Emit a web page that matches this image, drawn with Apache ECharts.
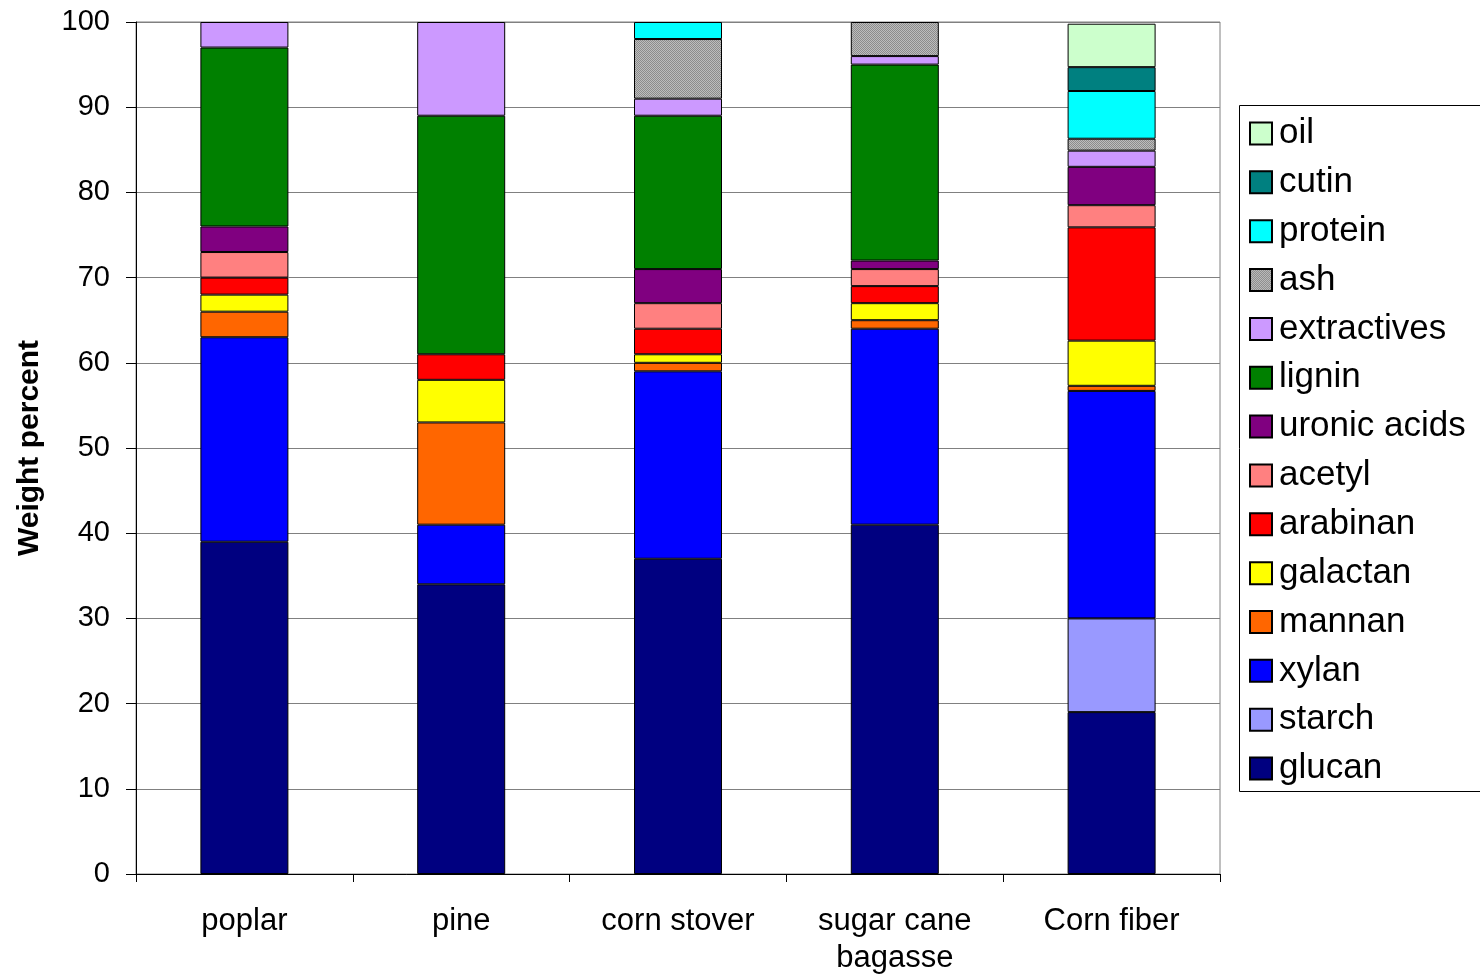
<!DOCTYPE html>
<html>
<head>
<meta charset="utf-8">
<script src="https://cdn.jsdelivr.net/npm/echarts@6/dist/echarts.min.js"></script>
<style>
  html, body { margin: 0; padding: 0; background: #fff; }
  #chart { width: 1480px; height: 976px; }
</style>
</head>
<body>
<div id="chart"></div>
<script>
// Feedstocks along the x axis
const categories = ['poplar', 'pine', 'corn stover', 'sugar cane\nbagasse', 'Corn fiber'];

// Composition in weight percent, one array per component (null = not present)
const glucan      = [39, 34, 37, 41, 19];
const starch      = [null, null, null, null, 11];
const xylan       = [24, 7, 22, 23, 26.7];
const mannan      = [3, 12, 1, 1, 0.6];
const galactan    = [2, 5, 1, 2, 5.3];
const arabinan    = [2, 3, 3, 2, 13.3];
const acetyl      = [3, null, 3, 2, 2.6];
const uronicAcids = [3, null, 4, 1, 4.5];
const lignin      = [21, 28, 18, 23, null];
const extractives = [3, 11, 2, 1, 1.9];
const ash         = [null, null, 7, 4, 1.4];
const protein     = [null, null, 2, null, 5.6];
const cutin       = [null, null, null, null, 2.8];
const oil         = [null, null, null, null, 5.1];

const yTicks = [0, 10, 20, 30, 40, 50, 60, 70, 80, 90, 100];

// Dithered grey fill used for ash
function ashPattern() {
  const c = document.createElement('canvas');
  c.width = 2; c.height = 2;
  const g = c.getContext('2d');
  g.fillStyle = '#bdbdbd'; g.fillRect(0, 0, 2, 2);
  g.fillStyle = '#8c8c8c'; g.fillRect(0, 0, 1, 1); g.fillRect(1, 1, 1, 1);
  return c;
}

// Stack order, bottom to top
const components = [
  { name: 'glucan',       data: glucan,      color: '#000080' },
  { name: 'starch',       data: starch,      color: '#9999FF' },
  { name: 'xylan',        data: xylan,       color: '#0000FF' },
  { name: 'mannan',       data: mannan,      color: '#FF6600' },
  { name: 'galactan',     data: galactan,    color: '#FFFF00' },
  { name: 'arabinan',     data: arabinan,    color: '#FF0000' },
  { name: 'acetyl',       data: acetyl,      color: '#FF8080' },
  { name: 'uronic acids', data: uronicAcids, color: '#800080' },
  { name: 'lignin',       data: lignin,      color: '#008000' },
  { name: 'extractives',  data: extractives, color: '#CC99FF' },
  { name: 'ash',          data: ash,         color: { image: ashPattern(), repeat: 'repeat' } },
  { name: 'protein',      data: protein,     color: '#00FFFF' },
  { name: 'cutin',        data: cutin,       color: '#008080' },
  { name: 'oil',          data: oil,         color: '#CCFFCC' }
];

const font = 'Liberation Sans, Arial, sans-serif';

const chart = echarts.init(document.getElementById('chart'), null, { renderer: 'canvas' });

chart.setOption({
  animation: false,
  backgroundColor: '#ffffff',
  grid: {
    left: 136, right: 260, top: 22, bottom: 102,
    outerBoundsMode: 'none',
    containLabel: false,
    show: true, borderColor: '#808080', borderWidth: 1, backgroundColor: 'transparent'
  },
  legend: {
    orient: 'vertical',
    left: 1244, top: 111,
    padding: 5,
    itemWidth: 22, itemHeight: 22, itemGap: 13.85,
    icon: 'rect',
    selectedMode: false,
    data: components.map(c => c.name).reverse(),
    textStyle: { fontFamily: font, fontSize: 35, color: '#000', padding: [0, 0, 0, 2] }
  },
  graphic: [{
    type: 'rect',
    shape: { x: 1239.5, y: 105.5, width: 260, height: 686 },
    style: { fill: 'none', stroke: '#000', lineWidth: 1 },
    z: 10
  }],
  xAxis: {
    type: 'category',
    data: categories,
    boundaryGap: true,
    axisLine: { lineStyle: { color: '#000', width: 1 } },
    axisTick: { show: true, length: 8, lineStyle: { color: '#000' } },
    axisLabel: { fontFamily: font, fontSize: 31, color: '#000', margin: 29, lineHeight: 37 }
  },
  yAxis: {
    type: 'value',
    min: yTicks[0], max: yTicks[yTicks.length - 1], interval: 10,
    name: 'Weight percent',
    nameLocation: 'middle',
    nameGap: 91,
    nameTextStyle: { fontFamily: font, fontSize: 30, fontWeight: 'bold', color: '#000' },
    axisLine: { show: true, lineStyle: { color: '#000', width: 1 } },
    axisTick: { show: true, length: 10, lineStyle: { color: '#000' } },
    axisLabel: { fontFamily: font, fontSize: 29, color: '#000', margin: 26 },
    splitLine: { show: true, lineStyle: { color: '#808080', width: 1 } }
  },
  series: components.map(c => ({
    name: c.name,
    type: 'bar',
    stack: 'total',
    barWidth: 88,
    data: c.data,
    itemStyle: { color: c.color, borderColor: '#000', borderWidth: 1 }
  }))
});
</script>
</body>
</html>
